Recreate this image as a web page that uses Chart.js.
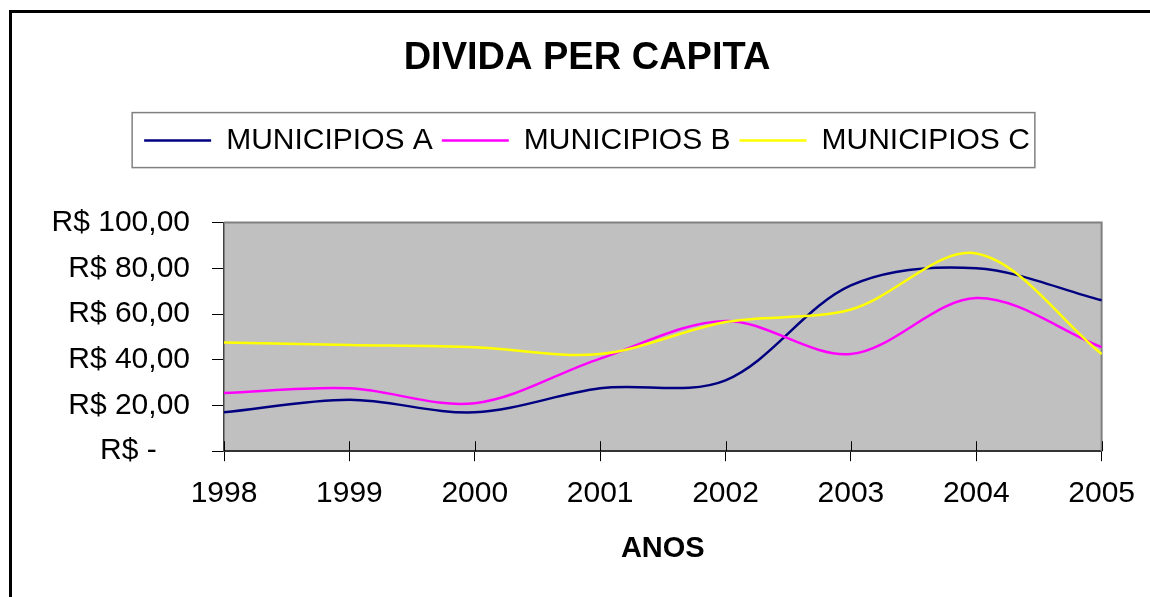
<!DOCTYPE html>
<html>
<head>
<meta charset="utf-8">
<title>Divida per capita</title>
<script src="https://cdn.jsdelivr.net/npm/chart.js@4.4.0/dist/chart.umd.min.js"></script>
<style>
    html, body { margin: 0; padding: 0; background: #fff; overflow: hidden; }
    .frame { position: absolute; left: 9px; top: 10px; width: 1400px; height: 800px; border: 3px solid #000; }
    .wrap { position: absolute; left: 0; top: 0; width: 1150px; height: 597px; }
</style>
</head>
<body>
<div class="frame"></div>
<div class="wrap"><canvas id="dividaChart"></canvas></div>
<script>
const anos = ['1998', '1999', '2000', '2001', '2002', '2003', '2004', '2005'];
const municipiosA = [17, 22.5, 17, 27.5, 31, 72.5, 80, 66];
const municipiosB = [25.5, 27.5, 21, 40.5, 57, 42.5, 67, 45.5];
const municipiosC = [47.5, 46.5, 45.5, 42.5, 56.5, 62, 86.5, 42.5];
const yTickLabels = ['R$ -    ', 'R$ 20,00', 'R$ 40,00', 'R$ 60,00', 'R$ 80,00', 'R$ 100,00'];

const FONT = "'Liberation Sans', Arial, sans-serif";

// gray plot area, top/right frame, tick marks crossing the x axis, legend box
const excelLook = {
    id: 'excelLook',
    beforeInit(chart) {
        const fit = chart.legend.fit;
        chart.legend.fit = function() {
            fit.call(this);
            this.height += 57;
        };
    },
    beforeDraw(chart) {
        const { ctx, chartArea: a } = chart;
        ctx.save();
        ctx.fillStyle = '#C0C0C0';
        ctx.fillRect(a.left, a.top, a.right - a.left, a.bottom - a.top);
        ctx.restore();
    },
    beforeDatasetsDraw(chart) {
        const { ctx, chartArea: a } = chart;
        const x = chart.scales.x;
        ctx.save();
        ctx.strokeStyle = '#808080';
        ctx.lineWidth = 2;
        ctx.beginPath();
        ctx.moveTo(a.left, a.top);
        ctx.lineTo(a.right, a.top);
        ctx.lineTo(a.right, a.bottom);
        ctx.stroke();
        ctx.strokeStyle = '#000';
        ctx.lineWidth = 1;
        ctx.beginPath();
        for (let i = 0; i < anos.length; i++) {
            const px = Math.round(x.getPixelForTick(i)) + 0.5;
            ctx.moveTo(px, a.bottom - 10);
            ctx.lineTo(px, a.bottom);
        }
        ctx.stroke();
        ctx.restore();
    },
    afterDraw(chart) {
        const hb = chart.legend.legendHitBoxes;
        if (!hb || !hb.length) return;
        const ctx = chart.ctx;
        const last = hb[hb.length - 1];
        const x0 = hb[0].left - 12;
        const x1 = last.left + last.width + 5;
        const y0 = hb[0].top - 13;
        const y1 = hb[0].top + hb[0].height + 12;
        ctx.save();
        ctx.strokeStyle = '#808080';
        ctx.lineWidth = 1.5;
        ctx.strokeRect(x0, y0, x1 - x0, y1 - y0);
        ctx.restore();
    }
};

new Chart(document.getElementById('dividaChart'), {
    type: 'line',
    data: {
        labels: anos,
        datasets: [
            {
                label: 'MUNICIPIOS A',
                data: municipiosA,
                borderColor: '#000080',
                backgroundColor: '#000080',
                borderWidth: 2.5,
                pointRadius: 0,
                tension: 0.33,
                order: 3
            },
            {
                label: 'MUNICIPIOS B',
                data: municipiosB,
                borderColor: '#FF00FF',
                backgroundColor: '#FF00FF',
                borderWidth: 2.5,
                pointRadius: 0,
                tension: 0.33,
                order: 2
            },
            {
                label: 'MUNICIPIOS C',
                data: municipiosC,
                borderColor: '#FFFF00',
                backgroundColor: '#FFFF00',
                borderWidth: 2.5,
                pointRadius: 0,
                tension: 0.33,
                order: 1
            }
        ]
    },
    options: {
        responsive: true,
        maintainAspectRatio: false,
        animation: false,
        layout: {
            padding: { left: 24, right: 0, top: 0, bottom: 31 }
        },
        plugins: {
            tooltip: { enabled: false },
            title: {
                display: true,
                text: 'DIVIDA PER CAPITA',
                color: '#000',
                font: { family: FONT, size: 38, weight: 'bold' },
                padding: { top: 36, bottom: 35 }
            },
            legend: {
                position: 'top',
                labels: {
                    color: '#000',
                    font: { family: FONT, size: 30 },
                    boxWidth: 67,
                    boxHeight: 0,
                    padding: 9,
                    sort: (a, b) => a.datasetIndex - b.datasetIndex
                }
            }
        },
        scales: {
            x: {
                grid: {
                    display: true,
                    drawOnChartArea: false,
                    tickLength: 10,
                    color: '#000'
                },
                border: { color: '#333', width: 2 },
                ticks: {
                    color: '#000',
                    font: { family: FONT, size: 30 },
                    padding: 15,
                    maxRotation: 0,
                    autoSkip: false
                },
                title: {
                    display: true,
                    text: 'ANOS',
                    color: '#000',
                    font: { family: FONT, size: 29, weight: 'bold' },
                    padding: { top: 4, bottom: 0 }
                }
            },
            y: {
                min: 0,
                max: 100,
                afterFit(scale) {
                    scale.width = 200;
                },
                grid: {
                    display: true,
                    drawOnChartArea: false,
                    tickLength: 12,
                    color: '#000'
                },
                border: { color: '#444', width: 1.5 },
                ticks: {
                    stepSize: 20,
                    color: '#000',
                    font: { family: FONT, size: 30 },
                    padding: 22,
                    callback: (value, index) => yTickLabels[index]
                }
            },
            // empty right-hand box so the plot ends where the original does
            margem: {
                type: 'linear',
                position: 'right',
                afterFit(scale) {
                    scale.width = 47;
                },
                grid: { display: false },
                border: { display: false },
                ticks: { display: false }
            }
        }
    },
    plugins: [excelLook]
});
</script>
</body>
</html>
